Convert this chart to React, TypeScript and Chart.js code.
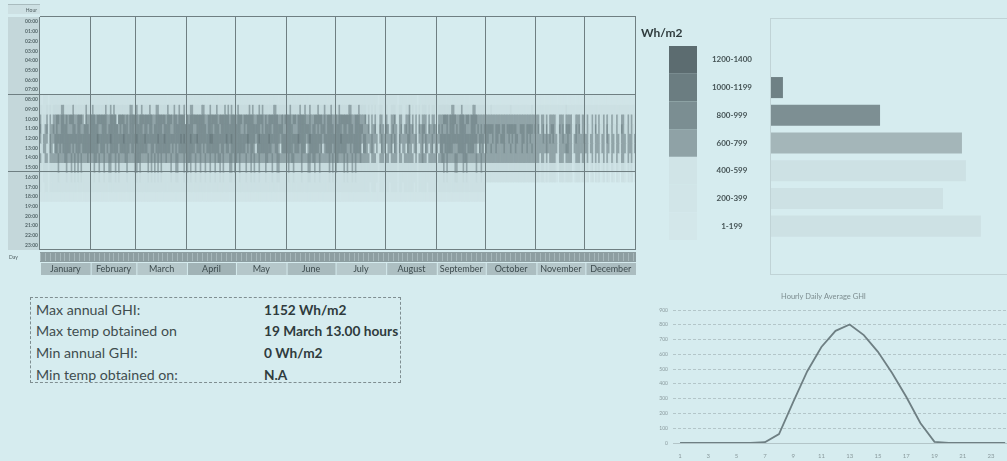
import React, { useEffect, useRef } from 'react';
import { Chart, registerables } from 'chart.js';

Chart.register(...registerables);

const BG = '#d6ecef';
const FONT = 'Lato, "Open Sans", sans-serif';
const LINE = '#6f7f82';

// ---------- heatmap data ----------
const monthNames = ['January', 'February', 'March', 'April', 'May', 'June', 'July', 'August', 'September', 'October', 'November', 'December'];
const monthDays = [31, 28, 31, 30, 31, 30, 31, 31, 30, 31, 30, 31];
const monthFills = ['#a9bbbe', '#afc1c4', '#b5c7ca', '#a1b3b6', '#b5c7ca', '#a9bbbe', '#b7c9cc', '#adbfc2', '#b7c9cc', '#abbdc0', '#b5c7ca', '#abbdc0'];
const hourLabels = ['00:00', '01:00', '02:00', '03:00', '04:00', '05:00', '06:00', '07:00', '08:00', '09:00', '10:00', '11:00',
  '12:00', '13:00', '14:00', '15:00', '16:00', '17:00', '18:00', '19:00', '20:00', '21:00', '22:00', '23:00'];
const axisTitles = ['Hour', 'Day'];
const daylightHours = [7, 8, 9, 10, 11, 12, 13, 14, 15, 16, 17, 18];

// bin code per daylight hour (h7..h18): 0 none, 1 = 1-199, 2 = 200-399, 3 = 400-599, 4 = 600-799, 5 = 800-999, 6 = 1000-1199
const dayProfiles: Record<string, string> = {
  A: '023555543221',
  B: '023556543221',
  C: '024555543221',
  J: '023555554321',
  Q: '024556554321',
  D: '023445543221',
  E: '022344443221',
  F: '022334433211',
  G: '012233332111',
  H: '023454343221',
  I: '023545454321',
  U: '023455553221',
  V: '023355543221',
  W: '024555443221',
  X: '023545543221',
  Y: '023455454321',
  K: '012444443200',
  N: '012455443200',
  R: '012455543200',
  S: '012454443200',
  O: '012445443200',
  P: '013454543200',
  T: '012334432100',
  L: '012233321000',
};

// estimated day type per day, one string per month
const dayTypesByMonth = [
  'HGFEH GDEHD AIDWC UJDXI CYDJA IDVCU D',
  'ACJUB IXAJW DYQAC JVIAX BUJDW CAI',
  'QUJCX BAIWJ DYCQA JXBUC AIDWJ YCBAQ V',
  'JUQCX IBAJW CYDAQ BXJCU IAJWB CYQAJ',
  'UCJXD AIBWJ CYHAQ XCDJU BAIWC JYHAD X',
  'AJCUI XDBWJ ACHYQ DUJXC IAHWD AJCYD',
  'JUCBX JAIWC YDJAC UHDXE HFDEH FGHDE F',
  'HEFDH XEGDH FEHDW EHFDG HEUHD FHEDH E',
  'FHDUI XJDAC WIYDA CJUIX DACWI HDYDH',
  'RNSPN KRNSO NRKSN PNSRO KSRNK RSNPK S',
  'KSTKN TRTOS NKTLS KNTPR SKLTN KSTKO',
  'TKLTK LSTKL TKLNT LKTLK TLSKT LKTKL T',
];

// colour by bin code
const binPalette = ['rgba(0,0,0,0)', '#d0e4e7', '#cce0e3', '#c7dbde', '#91a4a8', '#7b8e92', '#6b7d81', '#5c6c70'];

// ---------- legend / distribution ----------
const legendTitle = 'Wh/m2';
const binLabels = ['1200-1400', '1000-1199', '800-999', '600-799', '400-599', '200-399', '1-199'];
const binColors = ['#5c6c70', '#6b7d81', '#7b8e92', '#8fa2a6', '#d0e4e7', '#d1e5e8', '#d3e7ea'];
const binCounts = [0, 51, 466, 816, 833, 735, 897];
const binBarColors = ['#6b7d81', '#6f8185', '#7d8f93', '#a4b6b9', '#cde1e4', '#cde1e4', '#cde1e4'];

// ---------- hourly average ----------
const lineTitle = 'Hourly Daily Average GHI';
const avgHours = [1, 2, 3, 4, 5, 6, 7, 8, 9, 10, 11, 12, 13, 14, 15, 16, 17, 18, 19, 20, 21, 22, 23, 24];
const avgGHI = [0, 0, 0, 0, 0, 0, 5, 60, 277, 486, 650, 759, 802, 730, 617, 473, 313, 135, 8, 0, 0, 0, 0, 0];
const avgXTicks = [1, 3, 5, 7, 9, 11, 13, 15, 17, 19, 21, 23];

// ---------- stats ----------
const statLabels = ['Max annual GHI:', 'Max temp obtained on', 'Min annual GHI:', 'Min temp obtained on:'];
const statValues = ['1152 Wh/m2', '19 March 13.00 hours', '0 Wh/m2', 'N.A'];

function makeHeat(canvas: HTMLCanvasElement) {
  const days: string[] = [];
  const monthStarts: number[] = [];
  monthDays.forEach((n, m) => {
    monthStarts.push(days.length);
    for (let i = 1; i <= n; i++) days.push(`${i} ${monthNames[m]}`);
  });
  const types = dayTypesByMonth.map((s) => s.replace(/\s+/g, '')).join('');
  if (types.length !== days.length) throw new Error('dayTypes length ' + types.length);
  for (const t of types) if (!dayProfiles[t]) throw new Error('bad type ' + t);

  const datasets = daylightHours.map((h, k) => ({
    label: hourLabels[h],
    data: days.map((_, i) => (+dayProfiles[types[i]][k] > 0 ? [h, h + 1] : null)),
    backgroundColor: days.map((_, i) => binPalette[+dayProfiles[types[i]][k]]),
    borderWidth: 0,
    barPercentage: 1,
    categoryPercentage: 1,
    grouped: false,
  }));

  const decor = {
    id: 'heatDecor',
    beforeDraw(chart: any) {
      const { ctx, chartArea: a } = chart;
      ctx.save();
      ctx.fillStyle = '#c4d7da';
      ctx.fillRect(8, a.top, a.left - 8, a.bottom - a.top);
      ctx.fillStyle = '#cde0e3';
      ctx.fillRect(8, 4, a.left - 8, 10);
      ctx.fillStyle = '#a9bbbe';
      ctx.fillRect(8, 4, a.left - 8, 1);
      ctx.fillStyle = '#4f5e61';
      ctx.font = `5px ${FONT}`;
      ctx.textAlign = 'right';
      ctx.textBaseline = 'middle';
      ctx.fillText(axisTitles[0], a.left - 3, 10);
      ctx.restore();
    },
    afterDraw(chart: any) {
      const { ctx, chartArea: a, scales } = chart;
      const xs = scales.x;
      const ys = scales.y;
      const n = days.length;
      const step = (a.right - a.left) / n;
      const edge = (i: number) => (i >= n ? a.right : xs.getPixelForValue(i) - step / 2);
      ctx.save();
      ctx.fillStyle = LINE;
      [0, 8, 16, 24].forEach((v) => {
        const py = Math.round(ys.getPixelForValue(v));
        const x0 = v === 8 || v === 16 ? 8 : a.left;
        ctx.fillRect(x0, py - 1, a.right - x0, 1);
      });
      [...monthStarts, n].forEach((i) => {
        const px = Math.round(edge(i));
        ctx.fillRect(px - 1, a.top, 1, a.bottom - a.top);
      });
      // day strip
      const y0 = a.bottom + 2;
      ctx.fillStyle = '#8d9ea1';
      ctx.fillRect(a.left, y0, a.right - a.left, 10);
      ctx.fillStyle = '#a6b7ba';
      for (let i = 0; i < n; i += 3) ctx.fillRect(Math.round(edge(i)), y0 + 1, 1, 8);
      // month row
      const y1 = a.bottom + 13;
      ctx.font = `9px ${FONT}`;
      ctx.textAlign = 'center';
      ctx.textBaseline = 'middle';
      monthNames.forEach((name, m) => {
        const x0 = edge(monthStarts[m]);
        const x1 = edge(m + 1 < monthStarts.length ? monthStarts[m + 1] : n);
        ctx.fillStyle = monthFills[m];
        ctx.fillRect(x0 + 1, y1, x1 - x0 - 1, 12);
        ctx.fillStyle = '#3d4b4e';
        ctx.fillText(name, (x0 + x1) / 2, y1 + 6.5);
      });
      ctx.fillStyle = '#4f5e61';
      ctx.font = `5px ${FONT}`;
      ctx.textAlign = 'left';
      ctx.fillText(axisTitles[1], 9, a.bottom + 7);
      ctx.restore();
    },
  };

  return new Chart(canvas, {
    type: 'bar',
    data: { labels: days, datasets: datasets as any },
    options: {
      animation: false,
      responsive: false,
      events: [],
      layout: { padding: { left: 8, right: 4, top: 17, bottom: 32 } },
      plugins: { legend: { display: false }, tooltip: { enabled: false } },
      scales: {
        x: {
          type: 'category',
          offset: true,
          grid: { display: false, drawTicks: false },
          border: { display: false },
          ticks: { display: false, autoSkip: false },
          afterFit: (s: any) => { s.height = 0; },
        },
        y: {
          type: 'linear',
          min: 0,
          max: 24,
          reverse: true,
          afterBuildTicks: (s: any) => { s.ticks = hourLabels.map((_, h) => ({ value: h + 0.5 })); },
          ticks: {
            autoSkip: false,
            padding: 2,
            color: '#56676a',
            font: { size: 5, family: FONT, weight: 'bold' },
            callback: (_v: any, i: number) => hourLabels[i],
          },
          grid: { display: false, drawTicks: false },
          border: { display: false },
          afterFit: (s: any) => { s.width = 32; },
        },
      },
    } as any,
    plugins: [decor],
  });
}

function makeBars(canvas: HTMLCanvasElement) {
  const decor = {
    id: 'legendDecor',
    beforeDraw(chart: any) {
      const { ctx, chartArea: a, scales } = chart;
      const ys = scales.y;
      ctx.save();
      ctx.strokeStyle = '#c0d3d6';
      ctx.lineWidth = 1;
      ctx.strokeRect(130.5, 18.5, 260, 256);
      const h = (a.bottom - a.top) / binLabels.length;
      binLabels.forEach((_, i) => {
        const cy = ys.getPixelForValue(i);
        ctx.fillStyle = binColors[i];
        ctx.fillRect(29, cy - h / 2, 28, h);
      });
      ctx.fillStyle = '#2f3b3d';
      ctx.font = `bold 12px ${FONT}`;
      ctx.textAlign = 'left';
      ctx.textBaseline = 'middle';
      ctx.fillText(legendTitle, 1, 33);
      ctx.restore();
    },
  };
  return new Chart(canvas, {
    type: 'bar',
    data: {
      labels: binLabels,
      datasets: [{
        data: binCounts,
        backgroundColor: binBarColors,
        borderWidth: 0,
        barPercentage: 0.76,
        categoryPercentage: 1,
      }],
    },
    options: {
      indexAxis: 'y',
      animation: false,
      responsive: false,
      events: [],
      layout: { padding: { left: 0, right: 2, top: 46, bottom: 42 } },
      plugins: { legend: { display: false }, tooltip: { enabled: false } },
      scales: {
        x: { min: 0, max: 1000, display: false },
        y: {
          grid: { display: false, drawTicks: false },
          border: { display: false },
          ticks: {
            crossAlign: 'center',
            padding: 19,
            color: '#465456',
            font: { size: 8, family: FONT, weight: 'bold' },
          },
          afterFit: (s: any) => { s.width = 131; },
        },
      },
    } as any,
    plugins: [decor],
  });
}

function makeLine(canvas: HTMLCanvasElement) {
  return new Chart(canvas, {
    type: 'line',
    data: {
      datasets: [{
        data: avgHours.map((h, i) => ({ x: h, y: avgGHI[i] })),
        borderColor: '#6e7f83',
        borderWidth: 1.8,
        pointRadius: 0,
        tension: 0,
        fill: false,
      }],
    },
    options: {
      animation: false,
      responsive: false,
      events: [],
      layout: { padding: 0 },
      plugins: {
        legend: { display: false },
        tooltip: { enabled: false },
        title: {
          display: true,
          text: lineTitle,
          color: '#7d8d90',
          font: { size: 7.5, family: FONT, weight: 'normal' },
          padding: { top: 7, bottom: 9 },
        },
      },
      scales: {
        x: {
          type: 'linear',
          min: 0.5,
          max: 24.13,
          afterBuildTicks: (s: any) => { s.ticks = avgXTicks.map((v) => ({ value: v })); },
          grid: { display: false, drawTicks: false },
          border: { color: '#b3c5c8' },
          ticks: { padding: 9, color: '#8a9a9d', font: { size: 6, family: FONT } },
          afterFit: (s: any) => { s.height = 18; },
        },
        y: {
          min: 0,
          max: 900,
          ticks: { stepSize: 100, padding: 5, color: '#8a9a9d', font: { size: 5, family: FONT } },
          grid: { color: '#b3c6c9', drawTicks: false },
          border: { display: false, dash: [3, 2] },
          afterFit: (s: any) => { s.width = 33; },
        },
      },
    } as any,
  });
}

export default function App() {
  const heatRef = useRef<HTMLCanvasElement>(null);
  const barRef = useRef<HTMLCanvasElement>(null);
  const lineRef = useRef<HTMLCanvasElement>(null);

  useEffect(() => {
    const charts = [
      makeHeat(heatRef.current as HTMLCanvasElement),
      makeBars(barRef.current as HTMLCanvasElement),
      makeLine(lineRef.current as HTMLCanvasElement),
    ];
    return () => charts.forEach((c) => c.destroy());
  }, []);

  return (
    <div style={{ position: 'fixed', left: 0, top: 0, width: 1007, height: 461, background: BG, overflow: 'hidden', fontFamily: FONT }}>
      <canvas ref={heatRef} width={640} height={282} style={{ position: 'absolute', left: 0, top: 0 }} />
      <canvas ref={barRef} width={367} height={282} style={{ position: 'absolute', left: 640, top: 0 }} />
      <canvas ref={lineRef} width={367} height={176} style={{ position: 'absolute', left: 640, top: 285 }} />
      <div style={{ position: 'absolute', left: 30, top: 297, width: 369, height: 84, border: '1px dashed #7f8e91' }}>
        {statLabels.map((l, i) => (
          <div key={'l' + i} style={{ position: 'absolute', left: 5, top: 0.5 + i * 21.8, height: 22, lineHeight: '22px', fontSize: 14.2, color: '#3f4c4e', whiteSpace: 'nowrap' }}>{l}</div>
        ))}
        {statValues.map((v, i) => (
          <div key={'v' + i} style={{ position: 'absolute', left: 233, top: 0.5 + i * 21.8, height: 22, lineHeight: '22px', fontSize: 13.7, fontWeight: 'bold', color: '#2f3b3d', whiteSpace: 'nowrap' }}>{v}</div>
        ))}
      </div>
    </div>
  );
}
